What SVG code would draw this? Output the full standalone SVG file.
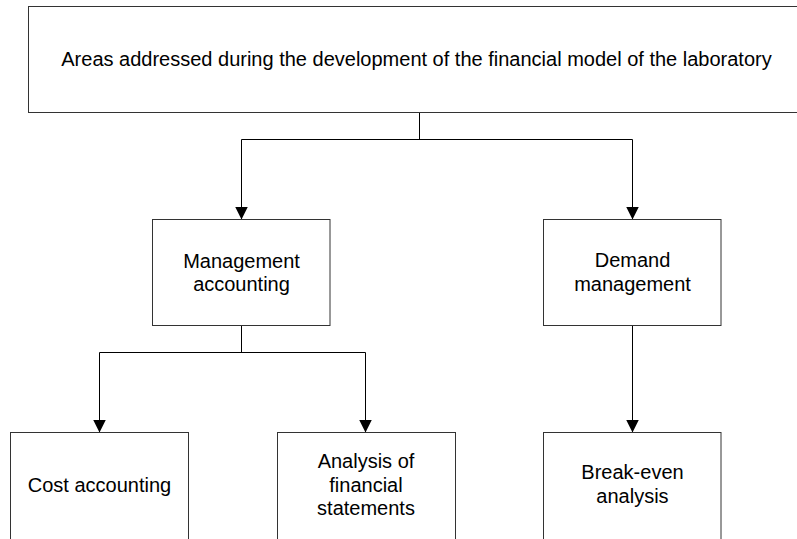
<svg xmlns="http://www.w3.org/2000/svg" width="797" height="539" viewBox="0 0 797 539">
<style>
.box{fill:#fff;stroke:#333;stroke-width:1}
.t{font-family:"Liberation Sans",Arial,sans-serif;font-size:20px;fill:#000;text-anchor:middle}
.c{fill:none;stroke:#000;stroke-width:1}
</style>
<defs>
<marker id="ah" markerUnits="userSpaceOnUse" markerWidth="13" markerHeight="13" refX="13" refY="6.5" orient="auto" viewBox="0 0 13 13">
<path d="M0,0 L13,6.5 L0,13 Z" fill="#000"/>
</marker>
</defs>
<rect width="797" height="539" fill="#fff"/>
<g id="connectors">
<path class="c" d="M419.5,112.5 V139.5"/>
<path class="c" d="M241.5,139.5 H632.5"/>
<path class="c" d="M241.5,139.5 V219.5" marker-end="url(#ah)"/>
<path class="c" d="M632.5,139.5 V219.5" marker-end="url(#ah)"/>
<path class="c" d="M241.5,325.5 V352.5"/>
<path class="c" d="M99.5,352.5 H365.5"/>
<path class="c" d="M99.5,352.5 V432.5" marker-end="url(#ah)"/>
<path class="c" d="M365.5,352.5 V432.5" marker-end="url(#ah)"/>
<path class="c" d="M632.5,325.5 V432.5" marker-end="url(#ah)"/>
</g>
<g id="root">
<rect class="box" x="28.5" y="6.5" width="780" height="106"/>
<text class="t" x="416.5" y="66">Areas addressed during the development of the financial model of the laboratory</text>
</g>
<g id="management-accounting">
<rect class="box" x="152.5" y="219.5" width="177.5" height="106"/>
<text class="t" x="241.5" y="267.5">Management</text>
<text class="t" x="241.5" y="290.5">accounting</text>
</g>
<g id="demand-management">
<rect class="box" x="543.5" y="219.5" width="177.5" height="106"/>
<text class="t" x="632.5" y="266.5">Demand</text>
<text class="t" x="632.5" y="290.5">management</text>
</g>
<g id="cost-accounting">
<rect class="box" x="10.5" y="432.5" width="178" height="120"/>
<text class="t" x="99.5" y="492">Cost accounting</text>
</g>
<g id="analysis-financial-statements">
<rect class="box" x="277.5" y="432.5" width="178" height="120"/>
<text class="t" x="366" y="468">Analysis of</text>
<text class="t" x="366" y="491.5">financial</text>
<text class="t" x="366" y="515">statements</text>
</g>
<g id="break-even">
<rect class="box" x="543.5" y="432.5" width="177.5" height="120"/>
<text class="t" x="632.5" y="479">Break-even</text>
<text class="t" x="632.5" y="503">analysis</text>
</g>
</svg>
